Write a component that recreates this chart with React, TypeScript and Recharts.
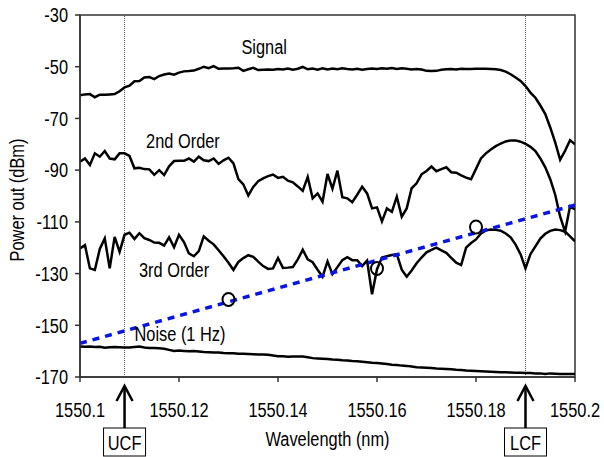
import React from 'react';
import {
  ComposedChart,
  Line,
  Scatter,
  XAxis,
  YAxis,
  ReferenceLine,
  ReferenceArea,
  ReferenceDot,
  Label,
} from 'recharts';

// sampling grid: 1550.100 .. 1550.200 nm, 0.001 nm steps
const startNm = 1550.1;
const stepNm = 0.001;

const signal = [
  -61, -60.7, -60.6, -61.8, -60.8, -60.8, -60.7, -60.6, -59.5, -58,
  -57.3, -55.6, -55.5, -54.2, -54, -54.8, -53.6, -53, -52.6, -53.1,
  -52.3, -51.8, -51.7, -51.5, -50.8, -50, -50.6, -49.8, -50.8, -50.7,
  -50.7, -50.6, -50.4, -51.6, -51, -50.4, -51.3, -51.2, -51.1, -51.2,
  -50.9, -51.1, -50.7, -51.2, -50.8, -50.1, -51, -50.7, -51.2, -50.6,
  -51.1, -50.7, -51, -50.6, -50.9, -51.1, -50.8, -51.2, -50.9, -50.7,
  -50.9, -50.6, -50.8, -50.5, -50.9, -50.6, -50.8, -51.1, -50.9, -51.1,
  -51.6, -51.7, -51.6, -51.2, -51, -50.9, -51.1, -50.8, -50.9, -50.9,
  -50.8, -50.8, -50.8, -50.9, -51, -51.3, -51.9, -52.9, -54.2, -55.5,
  -57.5, -60, -62, -65, -68.3, -73.5, -79.3, -86, -82.5, -78.4,
  -80,
];

const secondOrder = [
  -86.7, -85.5, -88, -83.5, -84.8, -82.6, -85.5, -85.8, -83.5, -83.5,
  -84.5, -89.3, -89.1, -89.6, -89.7, -91.8, -90, -91.9, -88.5, -86.5,
  -86.4, -86.4, -85.5, -86.7, -84.8, -86.2, -86.5, -85.5, -87.6, -86.2,
  -85.2, -87.4, -93.5, -95.5, -99.8, -96.5, -94.3, -93.2, -92.3, -91.7,
  -93, -92.6, -94.1, -94.7, -96.3, -98, -92.6, -100.9, -99, -102.2,
  -91.5, -97.2, -90.2, -100.5, -100.9, -102.4, -99.5, -96.4, -99, -104.8,
  -104.4, -109.8, -104.8, -106.1, -100.3, -108, -104.8, -97, -95.1, -91.6,
  -90.3, -88.6, -90.4, -89.6, -88.9, -90.8, -91, -92, -92.9, -93.5,
  -89.5, -85.5, -83.5, -82, -80.7, -79.7, -78.9, -78.5, -78.5, -79,
  -79.8, -81, -82.6, -85.5, -88.9, -93.5, -99.5, -108, -113.8, -104,
  -105.2,
];

const thirdOrder = [
  -120.3, -119, -128, -128.6, -120.5, -116.4, -128, -115.8, -121.6, -115,
  -114.2, -116.6, -114.4, -116.3, -117, -118, -118.1, -119.2, -116, -119.8,
  -115, -117.8, -122.2, -123.3, -121.3, -115.6, -117.3, -118.7, -121, -123.3,
  -125.8, -128.6, -125.5, -124, -122.9, -123.5, -125.4, -127.1, -128.2, -128,
  -124, -127.8, -127.7, -127.5, -124.5, -120.8, -124.5, -125.6, -128.5, -131.2,
  -125.3, -130.2, -127.5, -124.8, -123.7, -124.8, -124.8, -127.1, -125, -138,
  -128.3, -123.8, -123.3, -122.8, -122.5, -128.5, -131.2, -128.8, -126, -123.8,
  -121.8, -120.8, -120, -121, -122, -123.9, -125.8, -126.7, -120, -118.2,
  -116.8, -114.5, -113.3, -113, -113.1, -113.4, -114.5, -116, -118.8, -122.5,
  -128, -122.5, -119.5, -116.5, -114.6, -113.5, -113, -113.2, -113.8, -115.6,
  -117.5,
];

const noise = [
  -158.2, -158.3, -158.2, -158.4, -158.3, -158.7, -158.5, -158.4, -158.5, -158.6,
  -158.6, -158.4, -158.2, -158.6, -158.8, -158.8, -158.9, -159.1, -159.5, -159.9,
  -159.8, -159.9, -160, -159.9, -160.1, -160.3, -160.4, -160.5, -160.5, -160.7,
  -160.8, -160.8, -161, -161, -161.1, -161.2, -161.3, -161.3, -161.4, -161.7,
  -162, -162, -162.2, -162.1, -162.1, -162.1, -162.4, -162.7, -162.8, -162.9,
  -163, -163.2, -163.3, -163.5, -163.6, -163.8, -163.9, -164.1, -164.3, -164.5,
  -164.6, -164.8, -165, -165.3, -165.4, -165.6, -165.7, -165.9, -166.2, -166.3,
  -166.4, -166.5, -166.7, -166.8, -166.9, -167, -167.2, -167.3, -167.5, -167.6,
  -167.7, -167.8, -167.9, -168, -168.1, -168.2, -168.2, -168.3, -168.4, -168.4,
  -168.5, -168.5, -168.6, -168.6, -168.8, -168.6, -168.7, -168.8, -168.8, -168.8,
  -168.8,
];

// dotted blue fit line, end points only
const fitLine = [
  { x: 1550.1, y: -157 },
  { x: 1550.2, y: -103.5 },
];

// measured points (open circles)
const measured = [
  { x: 1550.13, y: -140 },
  { x: 1550.16, y: -128 },
  { x: 1550.18, y: -112 },
];

const xTicks = [1550.1, 1550.12, 1550.14, 1550.16, 1550.18, 1550.2];
const yTicks = [-170, -150, -130, -110, -90, -70, -50, -30];

const ucf = 1550.109;
const lcf = 1550.19;

const labels = [
  { text: 'Signal', x: 1550.1372, y: -42.4 },
  { text: '2nd Order', x: 1550.1208, y: -78.7 },
  { text: '3rd Order', x: 1550.119, y: -128.6 },
  { text: 'Noise (1 Hz)', x: 1550.1202, y: -153.4 },
];

const data = signal.map((s, i) => ({
  x: +(startNm + i * stepNm).toFixed(3),
  signal: s,
  second: secondOrder[i],
  third: thirdOrder[i],
  noise: noise[i],
}));

const FONT = "'Liberation Sans', Arial, sans-serif";
const AXIS = '#333';
const FS = 21;

// Arial squeezed horizontally, like the narrow face in the original figure
function NarrowText({ x, y, anchor = 'middle', baseline = 'central', rotate = 0, children }: any) {
  return (
    <text
      transform={`translate(${x},${y}) rotate(${rotate}) scale(0.78,1)`}
      textAnchor={anchor}
      dominantBaseline={baseline}
      fontFamily={FONT}
      fontSize={FS}
      fill="#000"
    >
      {children}
    </text>
  );
}

function XTick({ x, y, payload }: any) {
  return (
    <NarrowText x={x} y={y + FS * 0.36} anchor="middle">
      {String(payload.value)}
    </NarrowText>
  );
}

function YTick({ x, y, payload }: any) {
  return (
    <NarrowText x={x} y={y} anchor="end">
      {String(payload.value)}
    </NarrowText>
  );
}

function CutoffMark(props: any) {
  const { viewBox, text } = props;
  const x = viewBox.x;
  const b = viewBox.y + viewBox.height;
  return (
    <g>
      <line x1={x} y1={b + 9} x2={x} y2={b + 51} stroke="#000" strokeWidth={2.5} />
      <polyline
        points={`${x - 8},${b + 24} ${x},${b + 9} ${x + 8},${b + 24}`}
        fill="none"
        stroke="#000"
        strokeWidth={2.5}
      />
      <rect x={x - 21} y={b + 51} width={42} height={28} fill="#fff" stroke="#000" strokeWidth={1} />
      <NarrowText x={x} y={b + 66}>{text}</NarrowText>
    </g>
  );
}

function YTitle() {
  return (
    <NarrowText x={17} y={200} rotate={-90}>
      Power out (dBm)
    </NarrowText>
  );
}

function XTitle(props: any) {
  const { viewBox } = props;
  return (
    <NarrowText x={viewBox.x + viewBox.width / 2} y={439}>
      Wavelength (nm)
    </NarrowText>
  );
}

function OpenCircle(props: any) {
  const { cx, cy } = props;
  return <ellipse cx={cx} cy={cy} rx={6} ry={6.5} fill="none" stroke="#000" strokeWidth={2} />;
}

export default function App() {
  return (
    <div style={{ position: 'absolute', left: 0, top: 0, background: '#fff' }}>
      <ComposedChart
        width={604}
        height={457}
        data={data}
        margin={{ top: 15, right: 29, bottom: 50, left: 0 }}
      >
        <ReferenceArea
          x1={1550.1}
          x2={1550.2}
          y1={-170}
          y2={-30}
          fill="none"
          stroke={AXIS}
          strokeWidth={1.5}
        />
        <XAxis
          dataKey="x"
          type="number"
          domain={[1550.1, 1550.2]}
          ticks={xTicks}
          stroke={AXIS}
          strokeWidth={1.5}
          tickSize={5}
          tickMargin={20}
          height={30}
          tick={<XTick />}
          allowDataOverflow
        >
          <Label content={(p: any) => <XTitle {...p} />} />
        </XAxis>
        <YAxis
          type="number"
          domain={[-170, -30]}
          ticks={yTicks}
          stroke={AXIS}
          strokeWidth={1.5}
          tickSize={5}
          tickMargin={7}
          width={80}
          tick={<YTick />}
          label={<YTitle />}
          allowDataOverflow
        />
        <ReferenceLine
          x={ucf}
          stroke="#555"
          strokeWidth={1}
          strokeDasharray="1 1"
          label={(p: any) => <CutoffMark {...p} text="UCF" />}
        />
        <ReferenceLine
          x={lcf}
          stroke="#555"
          strokeWidth={1}
          strokeDasharray="1 1"
          label={(p: any) => <CutoffMark {...p} text="LCF" />}
        />
        <Line dataKey="signal" stroke="#000" strokeWidth={2.5} dot={false} isAnimationActive={false} />
        <Line dataKey="second" stroke="#000" strokeWidth={2.5} dot={false} isAnimationActive={false} />
        <Line dataKey="third" stroke="#000" strokeWidth={2.5} dot={false} isAnimationActive={false} />
        <Line dataKey="noise" stroke="#000" strokeWidth={2.5} dot={false} isAnimationActive={false} />
        <Line
          data={fitLine}
          dataKey="y"
          stroke="#0a14e6"
          strokeWidth={3.5}
          strokeDasharray="7 6"
          dot={false}
          isAnimationActive={false}
        />
        <Scatter data={measured} dataKey="y" shape={<OpenCircle />} isAnimationActive={false} />
        {labels.map((l) => (
          <ReferenceDot
            key={l.text}
            x={l.x}
            y={l.y}
            r={0}
            fill="none"
            stroke="none"
            label={(p: any) => (
              <NarrowText x={p.viewBox.x + p.viewBox.width / 2} y={p.viewBox.y + p.viewBox.height / 2}>
                {l.text}
              </NarrowText>
            )}
          />
        ))}
      </ComposedChart>
    </div>
  );
}
